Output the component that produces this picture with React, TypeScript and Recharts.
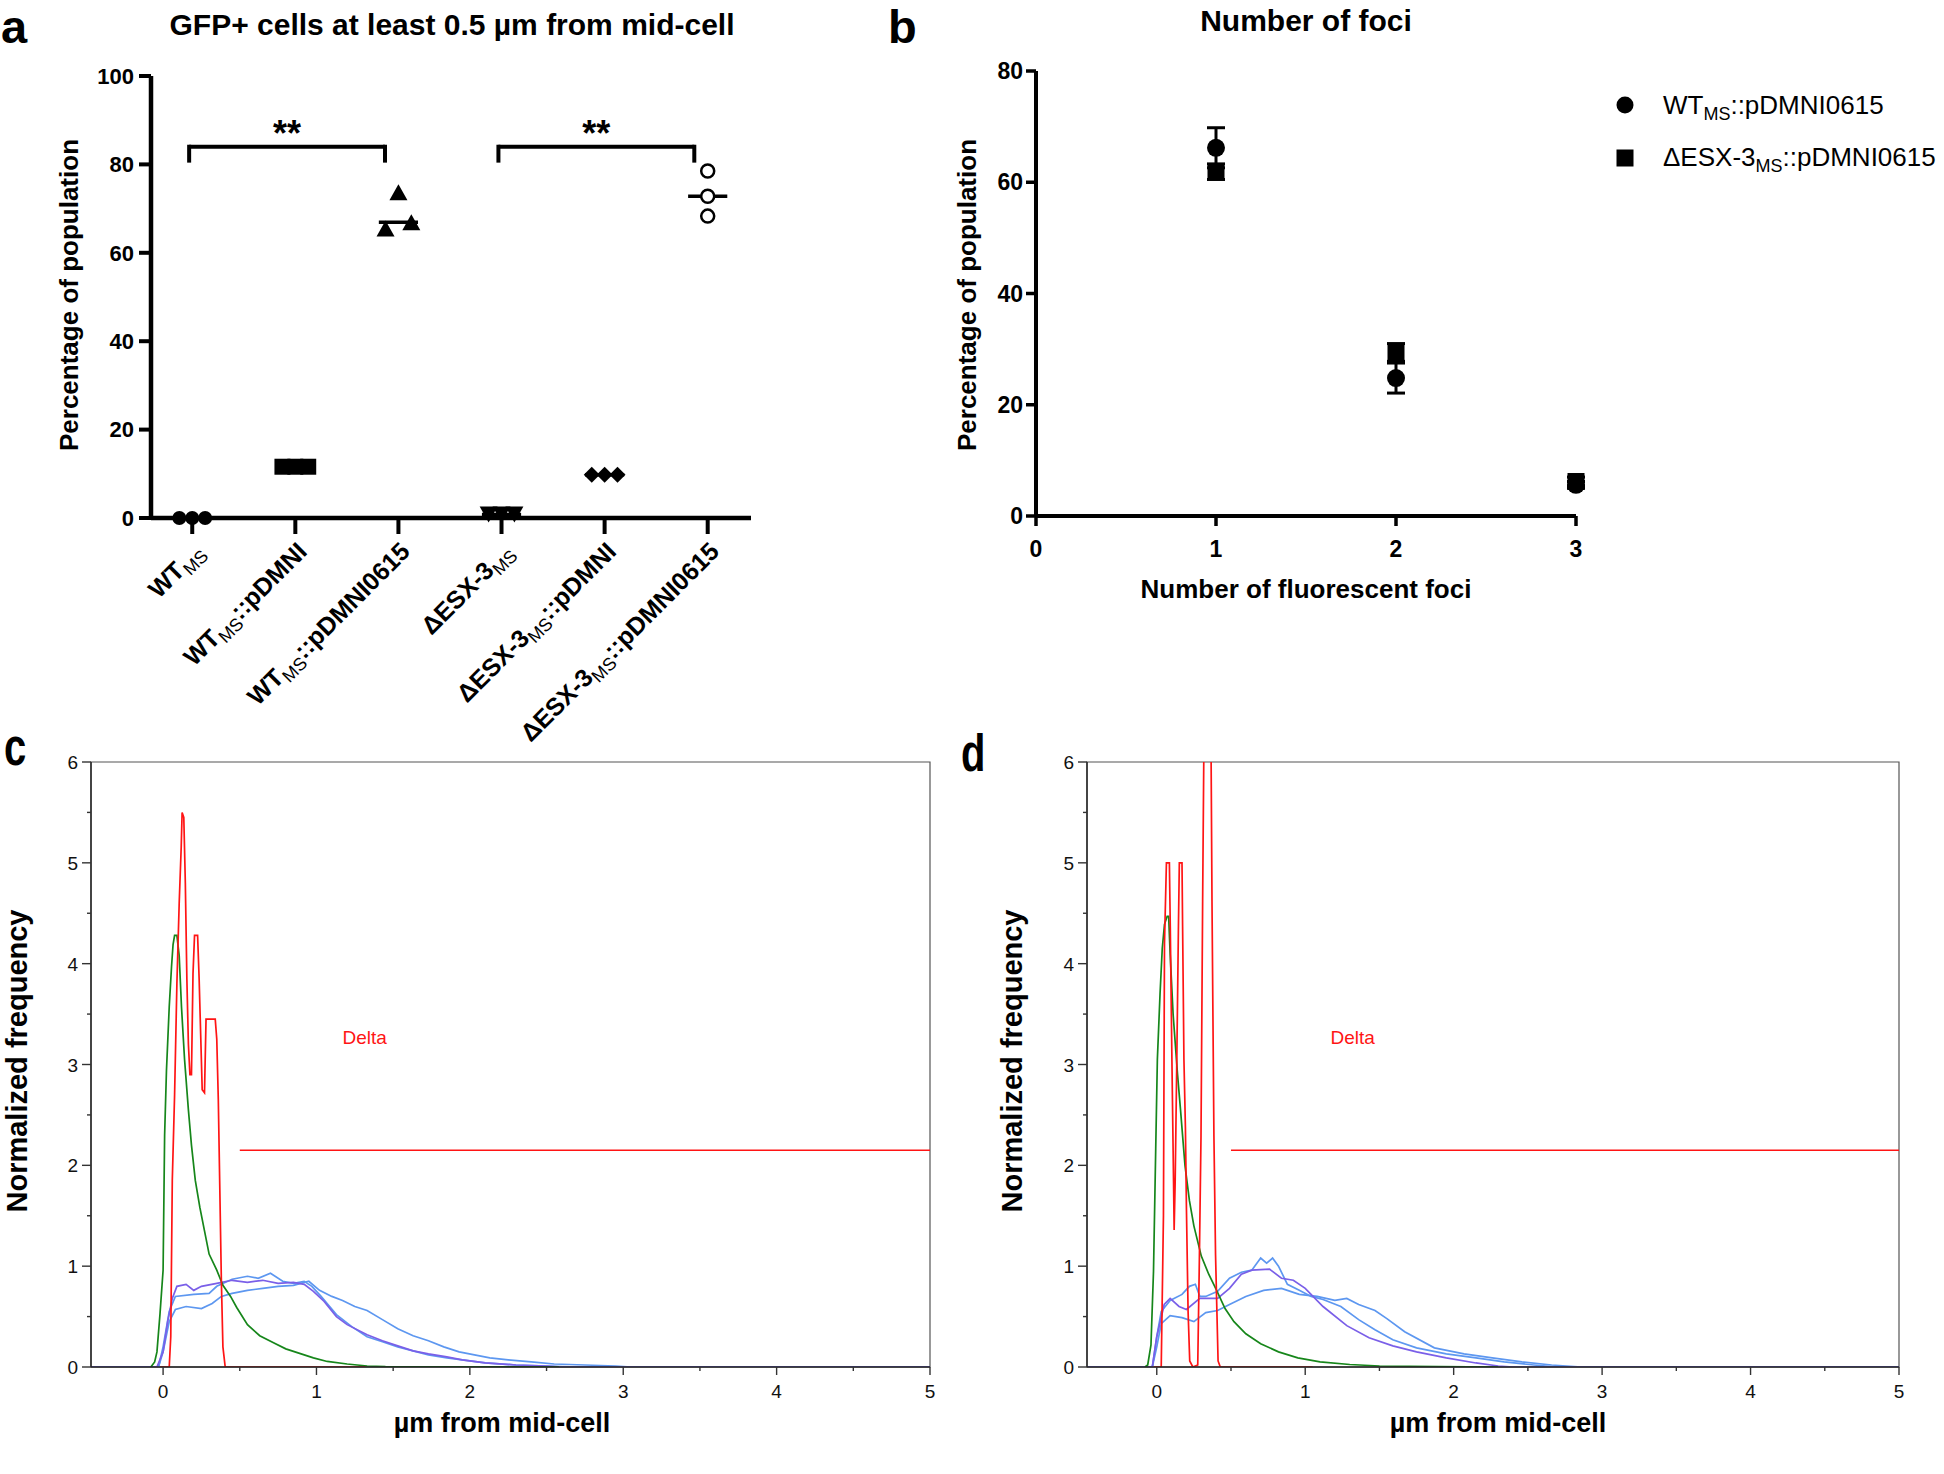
import React from "react";
import {
  ComposedChart,
  ScatterChart,
  Scatter,
  Line,
  XAxis,
  YAxis,
  ReferenceLine,
  ReferenceArea,
  ErrorBar,
} from "recharts";

const FONT = "'Liberation Sans', Arial, Helvetica, sans-serif";

type Seg = { t: string; sub?: boolean };

// ---------- panel a: GFP+ cells at least 0.5 µm from mid-cell ----------
const strainLabels: Seg[][] = [
  [{ t: "WT" }, { t: "MS", sub: true }],
  [{ t: "WT" }, { t: "MS", sub: true }, { t: "::pDMNI" }],
  [{ t: "WT" }, { t: "MS", sub: true }, { t: "::pDMNI0615" }],
  [{ t: "ΔESX-3" }, { t: "MS", sub: true }],
  [{ t: "ΔESX-3" }, { t: "MS", sub: true }, { t: "::pDMNI" }],
  [{ t: "ΔESX-3" }, { t: "MS", sub: true }, { t: "::pDMNI0615" }],
];
const wtMs = [0, 0, 0];
const wtMsPdmni = [11.6, 11.6, 11.6];
const wtMsPdmni0615 = [65.5, 73.7, 66.9];
const esxMs = [0.8, 0.8, 0.8];
const esxMsPdmni = [9.8, 9.8, 9.8];
const esxMsPdmni0615 = [78.5, 72.8, 68.3];
const strainValues = [wtMs, wtMsPdmni, wtMsPdmni0615, esxMs, esxMsPdmni, esxMsPdmni0615];
const strainMarkers = ["dot", "square", "triUp", "triDown", "diamond", "ring"];
const percentTicks = [0, 20, 40, 60, 80, 100];
const comparisons = [
  { from: 0, to: 2, label: "**" },
  { from: 3, to: 5, label: "**" },
];
const bracketLevel = 84;

// ---------- panel b: number of foci ----------
const fociCounts = [1, 2, 3];
const wtFociMean = [66.2, 24.8, 5.6];
const wtFociSem = [3.6, 2.7, 0.6];
const esxFociMean = [61.9, 29.4, 6.2];
const esxFociSem = [1.4, 1.6, 0.8];
const fociYTicks = [0, 20, 40, 60, 80];
const fociXTicks = [0, 1, 2, 3];

// ---------- panels c, d: distance histograms ----------
const histXTicks = [0, 0.5, 1, 1.5, 2, 2.5, 3, 3.5, 4, 4.5, 5];
const histYTicks = [0, 0.5, 1, 1.5, 2, 2.5, 3, 3.5, 4, 4.5, 5, 5.5, 6];
const deltaGate = { from: 0.5, to: 5, level: 2.15, label: "Delta", labelX: 1.17, labelY: 3.2 };

const cGreen: [number, number][] = [
  [-0.08, 0], [-0.055, 0.05], [-0.04, 0.15], [-0.02, 0.53], [0.0, 0.96], [0.01, 2.3], [0.022, 2.94],
  [0.04, 3.57], [0.055, 3.97], [0.065, 4.19], [0.075, 4.28], [0.09, 4.28], [0.105, 4.08], [0.12, 3.57],
  [0.14, 3.05], [0.165, 2.55], [0.185, 2.2], [0.21, 1.85], [0.24, 1.58], [0.27, 1.35], [0.3, 1.12],
  [0.35, 0.96], [0.39, 0.81], [0.44, 0.7], [0.48, 0.59], [0.55, 0.42], [0.63, 0.31], [0.72, 0.24],
  [0.8, 0.18], [0.9, 0.13], [0.98, 0.09], [1.07, 0.055], [1.2, 0.03], [1.33, 0.01], [1.45, 0.005], [2.58, 0],
];
const cRed: [number, number][] = [
  [-0.02, 0], [0.04, 0], [0.05, 0.3], [0.06, 1.85], [0.075, 2.7], [0.09, 3.8], [0.105, 4.6], [0.118, 5.15],
  [0.124, 5.5], [0.135, 5.45], [0.145, 4.8], [0.155, 3.85], [0.165, 3.2], [0.175, 2.9], [0.185, 2.9],
  [0.195, 3.9], [0.205, 4.28], [0.225, 4.28], [0.235, 3.85], [0.245, 3.3], [0.255, 2.75], [0.27, 2.72],
  [0.28, 3.45], [0.34, 3.45], [0.35, 3.25], [0.36, 2.65], [0.37, 1.75], [0.38, 0.85], [0.39, 0.2],
  [0.405, 0], [1.32, 0],
];
const cPurple: [number, number][] = [
  [-0.47, 0], [-0.04, 0], [0.0, 0.15], [0.03, 0.45], [0.06, 0.68], [0.09, 0.8], [0.15, 0.82], [0.2, 0.76],
  [0.25, 0.8], [0.35, 0.83], [0.45, 0.86], [0.55, 0.84], [0.65, 0.86], [0.75, 0.83], [0.85, 0.84],
  [0.92, 0.82], [0.98, 0.75], [1.05, 0.65], [1.13, 0.5], [1.2, 0.42], [1.33, 0.32], [1.43, 0.26],
  [1.53, 0.21], [1.63, 0.16], [1.73, 0.13], [1.85, 0.1], [1.95, 0.07], [2.1, 0.04], [2.3, 0.02],
  [2.5, 0.01], [2.6, 0], [5, 0],
];
const cBlueA: [number, number][] = [
  [-0.47, 0], [-0.03, 0], [0.0, 0.2], [0.04, 0.55], [0.08, 0.7], [0.2, 0.72], [0.3, 0.73], [0.35, 0.8],
  [0.45, 0.87], [0.55, 0.9], [0.62, 0.88], [0.7, 0.93], [0.78, 0.85], [0.85, 0.83], [0.92, 0.85],
  [0.97, 0.8], [1.03, 0.7], [1.13, 0.52], [1.23, 0.4], [1.33, 0.3], [1.43, 0.25], [1.53, 0.2],
  [1.63, 0.16], [1.73, 0.12], [1.85, 0.09], [1.95, 0.07], [2.1, 0.04], [2.3, 0.02], [2.5, 0.01],
  [2.7, 0], [5, 0],
];
const cBlueB: [number, number][] = [
  [-0.47, 0], [-0.03, 0], [0.0, 0.15], [0.04, 0.45], [0.08, 0.57], [0.15, 0.6], [0.25, 0.58], [0.32, 0.63],
  [0.38, 0.7], [0.45, 0.73], [0.55, 0.76], [0.65, 0.78], [0.75, 0.8], [0.85, 0.81], [0.95, 0.85],
  [1.02, 0.76], [1.1, 0.7], [1.17, 0.66], [1.25, 0.6], [1.33, 0.56], [1.43, 0.47], [1.53, 0.38],
  [1.63, 0.31], [1.73, 0.26], [1.83, 0.2], [1.93, 0.15], [2.03, 0.12], [2.13, 0.09], [2.25, 0.07],
  [2.4, 0.05], [2.55, 0.03], [2.75, 0.02], [2.95, 0.01], [3.05, 0], [5, 0],
];

const dGreen: [number, number][] = [
  [-0.08, 0], [-0.061, 0.02], [-0.039, 0.22], [-0.022, 0.95], [-0.007, 2.17], [0.004, 3.05], [0.022, 3.7],
  [0.037, 4.15], [0.052, 4.39], [0.07, 4.47], [0.08, 4.47], [0.09, 4.1], [0.11, 3.5], [0.14, 2.9],
  [0.16, 2.55], [0.19, 2.0], [0.22, 1.65], [0.25, 1.4], [0.3, 1.1], [0.35, 0.92], [0.4, 0.77],
  [0.46, 0.58], [0.52, 0.45], [0.6, 0.33], [0.7, 0.23], [0.82, 0.15], [0.95, 0.09], [1.1, 0.05],
  [1.3, 0.025], [1.5, 0.01], [2.3, 0],
];
const dRed: [number, number][] = [
  [-0.02, 0], [0.03, 0], [0.045, 1.5], [0.052, 4.2], [0.065, 5.0], [0.085, 5.0], [0.091, 4.37], [0.102, 3.05],
  [0.113, 1.84], [0.117, 1.36], [0.124, 1.84], [0.135, 3.05], [0.146, 4.37], [0.152, 5.0], [0.17, 5.0],
  [0.174, 4.37], [0.183, 3.05], [0.193, 2.37], [0.2, 1.56], [0.211, 0.55], [0.222, 0.06], [0.243, 0],
  [0.276, 0.02], [0.287, 1.07], [0.298, 2.29], [0.309, 4.62], [0.322, 7], [0.362, 7], [0.372, 4.62],
  [0.385, 2.29], [0.396, 1.11], [0.413, 0.06], [0.428, 0], [1.05, 0],
];
const dPurple: [number, number][] = [
  [-0.47, 0], [-0.03, 0], [0.0, 0.3], [0.05, 0.62], [0.09, 0.68], [0.15, 0.6], [0.2, 0.57], [0.29, 0.68],
  [0.41, 0.68], [0.49, 0.78], [0.57, 0.92], [0.64, 0.96], [0.76, 0.97], [0.84, 0.88], [0.92, 0.86],
  [1.0, 0.78], [1.12, 0.6], [1.28, 0.41], [1.43, 0.29], [1.59, 0.21], [1.75, 0.15], [1.95, 0.09],
  [2.15, 0.04], [2.3, 0.01], [2.4, 0], [5, 0],
];
const dBlueA: [number, number][] = [
  [-0.47, 0], [-0.03, 0], [0.0, 0.3], [0.03, 0.55], [0.09, 0.66], [0.17, 0.72], [0.22, 0.8], [0.26, 0.82],
  [0.29, 0.7], [0.33, 0.7], [0.41, 0.75], [0.49, 0.88], [0.57, 0.94], [0.64, 0.96], [0.7, 1.08],
  [0.74, 1.03], [0.78, 1.08], [0.82, 1.0], [0.88, 0.82], [0.96, 0.76], [1.04, 0.7], [1.12, 0.67],
  [1.24, 0.6], [1.36, 0.47], [1.47, 0.37], [1.59, 0.27], [1.75, 0.19], [1.95, 0.13], [2.15, 0.09],
  [2.34, 0.05], [2.54, 0.02], [2.7, 0], [5, 0],
];
const dBlueB: [number, number][] = [
  [-0.47, 0], [-0.03, 0], [0.0, 0.2], [0.03, 0.43], [0.09, 0.51], [0.17, 0.49], [0.25, 0.45], [0.33, 0.54],
  [0.41, 0.56], [0.49, 0.62], [0.6, 0.7], [0.72, 0.76], [0.84, 0.78], [0.96, 0.72], [1.08, 0.7],
  [1.2, 0.66], [1.28, 0.68], [1.36, 0.62], [1.47, 0.56], [1.55, 0.48], [1.67, 0.35], [1.87, 0.19],
  [2.07, 0.13], [2.26, 0.09], [2.46, 0.05], [2.66, 0.02], [2.86, 0], [5, 0],
];

const GREEN = "#16861a";
const RED = "#ff1414";
const BLUE = "#5d97f0";
const PURPLE = "#7a5fe8";

const toPoints = (arr: [number, number][]) => arr.map(([x, y]) => ({ x, y }));

function SegText({ segs, size, weight, subSize, subShift, ...rest }: any) {
  let down = false;
  return (
    <text fontFamily={FONT} fontSize={size} fontWeight={weight} {...rest}>
      {segs.map((s: Seg, k: number) => {
        let dy = 0;
        if (s.sub && !down) dy = subShift;
        if (!s.sub && down) dy = -subShift;
        down = !!s.sub;
        return (
          <tspan key={k} dy={dy} fontSize={s.sub ? subSize : size} fontWeight={s.sub ? 400 : weight}>
            {s.t}
          </tspan>
        );
      })}
    </text>
  );
}

function marker(kind: string) {
  return (p: any) => {
    const { cx, cy } = p;
    if (cx == null || cy == null) return <g />;
    switch (kind) {
      case "dot":
        return <circle cx={cx} cy={cy} r={7} fill="#000" />;
      case "square":
        return <rect x={cx - 8} y={cy - 8} width={16} height={16} fill="#000" />;
      case "triUp":
        return <path d={`M${cx},${cy - 8}L${cx + 9},${cy + 8}L${cx - 9},${cy + 8}Z`} fill="#000" />;
      case "triDown":
        return <path d={`M${cx},${cy + 8}L${cx + 9},${cy - 8}L${cx - 9},${cy - 8}Z`} fill="#000" />;
      case "diamond":
        return <path d={`M${cx},${cy - 8}L${cx + 8},${cy}L${cx},${cy + 8}L${cx - 8},${cy}Z`} fill="#000" />;
      case "bigDot":
        return <circle cx={cx} cy={cy} r={9} fill="#000" />;
      case "bigSquare":
        return <rect x={cx - 8.5} y={cy - 8.5} width={17} height={17} fill="#000" />;
      default:
        return <circle cx={cx} cy={cy} r={6.5} fill="#fff" stroke="#000" strokeWidth={2.5} />;
    }
  };
}

// horizontal jitter only when points in a column would overlap
function columnPoints(values: number[], idx: number) {
  const sorted = [...values].sort((a, b) => a - b);
  const crowded = sorted.some((v, k) => k > 0 && v - sorted[k - 1] < 4);
  return values.map((v, j) => ({ x: idx + (crowded ? (j - (values.length - 1) / 2) * 0.125 : 0), y: v }));
}
const median = (values: number[]) => [...values].sort((a, b) => a - b)[Math.floor(values.length / 2)];

function StrainTick({ x, y, payload }: any) {
  const segs = strainLabels[payload.value];
  if (!segs) return null;
  return (
    <g transform={`translate(${x + 13},${y + 19}) rotate(-45)`}>
      <SegText segs={segs} size={25} weight={700} subSize={18} subShift={6} textAnchor="end" fill="#000" />
    </g>
  );
}

function PanelA() {
  return (
    <div style={{ position: "absolute", left: 0, top: 0 }}>
      <ScatterChart width={790} height={760} margin={{ top: 76, right: 39, bottom: 42, left: 66 }}>
        <XAxis
          type="number"
          dataKey="x"
          domain={[-0.4, 5.42]}
          ticks={[0, 1, 2, 3, 4, 5]}
          interval={0}
          height={200}
          tickSize={16}
          tickMargin={0}
          tick={<StrainTick />}
          tickLine={{ stroke: "#000", strokeWidth: 4 }}
          axisLine={{ stroke: "#000", strokeWidth: 4.5 }}
        />
        <YAxis
          type="number"
          dataKey="y"
          domain={[0, 100]}
          ticks={percentTicks}
          interval={0}
          width={85}
          tickSize={12}
          tickMargin={5}
          tick={{ fontFamily: FONT, fontSize: 22, fontWeight: 700, fill: "#000" }}
          tickLine={{ stroke: "#000", strokeWidth: 4 }}
          axisLine={{ stroke: "#000", strokeWidth: 4.5 }}
        />
        {strainValues.map((vals, i) => (
          <Scatter
            key={i}
            data={columnPoints(vals, i)}
            dataKey="y"
            shape={marker(strainMarkers[i])}
            isAnimationActive={false}
          />
        ))}
        {strainValues.map((vals, i) => (
          <ReferenceLine
            key={`m${i}`}
            segment={[
              { x: i - 0.19, y: median(vals) },
              { x: i + 0.19, y: median(vals) },
            ]}
            stroke="#000"
            strokeWidth={3.5}
          />
        ))}
        {comparisons.map((c, k) => {
          const x1 = c.from - 0.03;
          const x2 = c.to - 0.13;
          return (
            <React.Fragment key={`b${k}`}>
              <ReferenceLine segment={[{ x: x1, y: bracketLevel }, { x: x2, y: bracketLevel }]} stroke="#000" strokeWidth={4} />
              <ReferenceLine segment={[{ x: x1, y: bracketLevel + 0.45 }, { x: x1, y: bracketLevel - 3.6 }]} stroke="#000" strokeWidth={4} />
              <ReferenceLine segment={[{ x: x2, y: bracketLevel + 0.45 }, { x: x2, y: bracketLevel - 3.6 }]} stroke="#000" strokeWidth={4} />
            </React.Fragment>
          );
        })}
        <Scatter
          data={comparisons.map((c) => ({ x: (c.from + c.to - 0.16) / 2, y: bracketLevel + 4.6, label: c.label }))}
          dataKey="y"
          isAnimationActive={false}
          shape={(p: any) => (
            <text x={p.cx} y={p.cy + 20} textAnchor="middle" fontFamily={FONT} fontWeight={700} fontSize={36} fill="#000">
              {p.payload.label}
            </text>
          )}
        />
      </ScatterChart>
    </div>
  );
}

function PanelB() {
  const wtData = fociCounts.map((x, i) => ({ x, y: wtFociMean[i], err: wtFociSem[i] }));
  const esxData = fociCounts.map((x, i) => ({ x, y: esxFociMean[i], err: esxFociSem[i] }));
  return (
    <div style={{ position: "absolute", left: 900, top: 0 }}>
      <ScatterChart width={700} height={640} margin={{ top: 71, right: 24, bottom: 64, left: 61 }}>
        <XAxis
          type="number"
          dataKey="x"
          domain={[0, 3]}
          ticks={fociXTicks}
          interval={0}
          height={60}
          tickSize={10}
          tickMargin={15}
          tick={{ fontFamily: FONT, fontSize: 23, fontWeight: 700, fill: "#000" }}
          tickLine={{ stroke: "#000", strokeWidth: 3.5 }}
          axisLine={{ stroke: "#000", strokeWidth: 4 }}
        />
        <YAxis
          type="number"
          dataKey="y"
          domain={[0, 80]}
          ticks={fociYTicks}
          interval={0}
          width={75}
          tickSize={10}
          tickMargin={3}
          tick={{ fontFamily: FONT, fontSize: 23, fontWeight: 700, fill: "#000" }}
          tickLine={{ stroke: "#000", strokeWidth: 3.5 }}
          axisLine={{ stroke: "#000", strokeWidth: 4 }}
        />
        <Scatter data={wtData} dataKey="y" shape={marker("bigDot")} isAnimationActive={false}>
          <ErrorBar dataKey="err" direction="y" width={9} stroke="#000" strokeWidth={3} isAnimationActive={false} />
        </Scatter>
        <Scatter data={esxData} dataKey="y" shape={marker("bigSquare")} isAnimationActive={false}>
          <ErrorBar dataKey="err" direction="y" width={9} stroke="#000" strokeWidth={3} isAnimationActive={false} />
        </Scatter>
      </ScatterChart>
    </div>
  );
}

function HistXTick({ x, y, payload }: any) {
  const major = Number.isInteger(payload.value);
  return (
    <g>
      <line x1={x} x2={x} y1={y} y2={y + (major ? 8 : 4)} stroke="#333" strokeWidth={1.4} />
      {major && (
        <text x={x} y={y + 31} textAnchor="middle" fontFamily={FONT} fontSize={19} fill="#111">
          {payload.value}
        </text>
      )}
    </g>
  );
}

function HistYTick({ x, y, payload }: any) {
  const major = Number.isInteger(payload.value);
  return (
    <g>
      <line x1={x} x2={x - (major ? 9 : 4)} y1={y} y2={y} stroke="#333" strokeWidth={1.4} />
      {major && (
        <text x={x - 13} y={y + 7} textAnchor="end" fontFamily={FONT} fontSize={19} fill="#111">
          {payload.value}
        </text>
      )}
    </g>
  );
}

type HistProps = {
  left: number;
  width: number;
  marginLeft: number;
  marginRight: number;
  green: [number, number][];
  red: [number, number][];
  purple: [number, number][];
  blueA: [number, number][];
  blueB: [number, number][];
};

function HistPanel({ left, width, marginLeft, marginRight, green, red, purple, blueA, blueB }: HistProps) {
  const line = (data: [number, number][], color: string, key: string) => (
    <Line
      key={key}
      data={toPoints(data)}
      dataKey="y"
      type="linear"
      stroke={color}
      strokeWidth={1.7}
      dot={false}
      activeDot={false}
      isAnimationActive={false}
    />
  );
  return (
    <div style={{ position: "absolute", left, top: 700 }}>
      <ComposedChart width={width} height={774} margin={{ top: 62, right: marginRight, bottom: 67, left: marginLeft }}>
        <XAxis
          type="number"
          dataKey="x"
          domain={[-0.47, 5]}
          ticks={histXTicks}
          interval={0}
          height={40}
          tickSize={0}
          tickMargin={0}
          tick={<HistXTick />}
          allowDataOverflow
          axisLine={{ stroke: "#222", strokeWidth: 1.4 }}
        />
        <YAxis
          type="number"
          dataKey="y"
          domain={[0, 6]}
          ticks={histYTicks}
          interval={0}
          width={40}
          tickSize={0}
          tickMargin={0}
          tick={<HistYTick />}
          allowDataOverflow
          axisLine={{ stroke: "#222", strokeWidth: 1.4 }}
        />
        <ReferenceArea x1={-0.47} x2={5} y1={0} y2={6} fill="none" stroke="#555" strokeWidth={1.2} />
        {line(blueB, BLUE, "bb")}
        {line(blueA, BLUE, "ba")}
        {line(purple, PURPLE, "p")}
        {line(green, GREEN, "g")}
        {line(red, RED, "r")}
        <ReferenceLine
          segment={[
            { x: deltaGate.from, y: deltaGate.level },
            { x: deltaGate.to, y: deltaGate.level },
          ]}
          stroke={RED}
          strokeWidth={1.6}
        />
        <Scatter
          data={[{ x: deltaGate.labelX, y: deltaGate.labelY }]}
          dataKey="y"
          isAnimationActive={false}
          shape={(p: any) => (
            <text x={p.cx} y={p.cy} fontFamily={FONT} fontSize={19} fill={RED}>
              {deltaGate.label}
            </text>
          )}
        />
      </ComposedChart>
    </div>
  );
}

function Overlay() {
  const bold = { fontFamily: FONT, fontWeight: 700, fill: "#000" } as const;
  return (
    <svg width={1944} height={1474} style={{ position: "absolute", left: 0, top: 0, pointerEvents: "none" }}>
      <text x={1} y={43} fontSize={47} {...bold}>a</text>
      <text x={888} y={43} fontSize={47} {...bold}>b</text>
      <text transform="translate(4,765) scale(1,1.3)" fontSize={40} {...bold}>c</text>
      <text transform="translate(961,771) scale(1,1.3)" fontSize={40} {...bold}>d</text>

      <text x={452} y={35} textAnchor="middle" fontSize={30} {...bold}>GFP+ cells at least 0.5 µm from mid-cell</text>
      <text transform="translate(78,295) rotate(-90)" textAnchor="middle" fontSize={26} {...bold}>Percentage of population</text>

      <text x={1306} y={31} textAnchor="middle" fontSize={30} {...bold}>Number of foci</text>
      <text transform="translate(976,295) rotate(-90)" textAnchor="middle" fontSize={26} {...bold}>Percentage of population</text>
      <text x={1306} y={598} textAnchor="middle" fontSize={26} {...bold}>Number of fluorescent foci</text>

      <circle cx={1625} cy={105} r={8.5} fill="#000" />
      <SegText
        segs={[{ t: "WT" }, { t: "MS", sub: true }, { t: "::pDMNI0615" }]}
        x={1663} y={114} size={26} weight={400} subSize={18} subShift={6} fill="#000"
      />
      <rect x={1616.5} y={149.5} width={17} height={17} fill="#000" />
      <SegText
        segs={[{ t: "ΔESX-3" }, { t: "MS", sub: true }, { t: "::pDMNI0615" }]}
        x={1663} y={166} size={26} weight={400} subSize={18} subShift={6} fill="#000"
      />

      <text transform="translate(27,1061) rotate(-90)" textAnchor="middle" fontSize={29} {...bold}>Normalized frequency</text>
      <text x={502} y={1432} textAnchor="middle" fontSize={27} {...bold}>µm from mid-cell</text>
      <text transform="translate(1022,1061) rotate(-90)" textAnchor="middle" fontSize={29} {...bold}>Normalized frequency</text>
      <text x={1498} y={1432} textAnchor="middle" fontSize={27} {...bold}>µm from mid-cell</text>
    </svg>
  );
}

export default function App() {
  return (
    <div style={{ position: "absolute", left: 0, top: 0, width: 1944, height: 1474, background: "#fff", overflow: "hidden" }}>
      <PanelA />
      <PanelB />
      <HistPanel left={0} width={960} marginLeft={51} marginRight={30} green={cGreen} red={cRed} purple={cPurple} blueA={cBlueA} blueB={cBlueB} />
      <HistPanel left={972} width={972} marginLeft={75} marginRight={45} green={dGreen} red={dRed} purple={dPurple} blueA={dBlueA} blueB={dBlueB} />
      <Overlay />
    </div>
  );
}
